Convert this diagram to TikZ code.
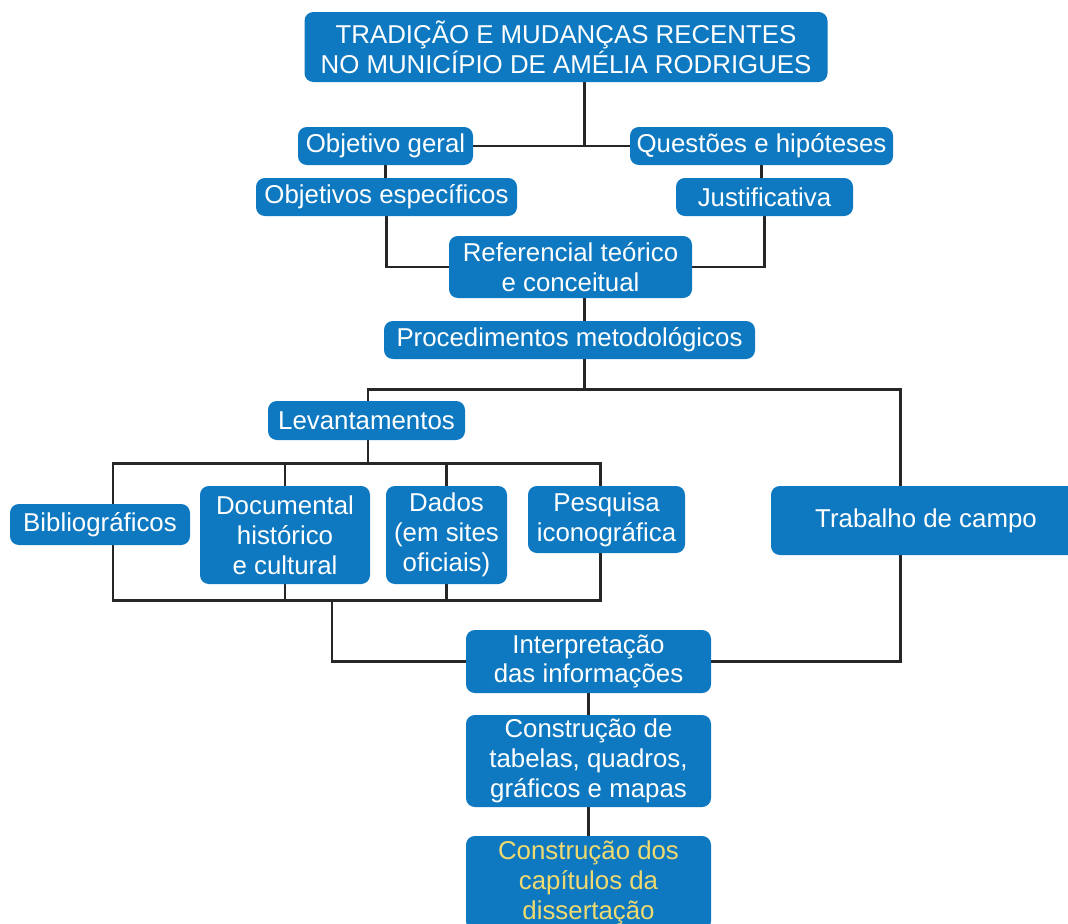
\documentclass[tikz,border=0pt]{standalone}
\usepackage{fontspec}
\setmainfont{Liberation Sans}
\usetikzlibrary{backgrounds}
\definecolor{boxblue}{RGB}{14,121,192}
\definecolor{capyellow}{RGB}{240,218,112}
\begin{document}
\begin{tikzpicture}[x=0.02cm,y=-0.02cm,
	box/.style={fill=boxblue, rounded corners=5pt, text=white, align=center, inner sep=0pt,
		font=\fontsize{14.7}{17}\selectfont},
	boxsize/.style 2 args={minimum width=#1*0.02cm, minimum height=#2*0.02cm},
	link/.style={line width=1.7pt, black!85}]
\useasboundingbox (0,0) rectangle (1068,923);

%top
\node[box, boxsize={523}{70}] (title) at (566,47) {TRADIÇÃO E MUDANÇAS RECENTES\\NO MUNICÍPIO DE AMÉLIA RODRIGUES};
\node[box, boxsize={175}{38}] (geral) at (385.5,146) {Objetivo geral};
\node[box, boxsize={263}{38}] (questoes) at (761.5,146) {Questões e hipóteses};
\node[box, boxsize={261}{38}] (especificos) at (386.5,197) {Objetivos específicos};
\node[box, boxsize={177}{38}] (justif) at (764.5,197) {Justificativa};
\node[box, boxsize={243}{62}] (referencial) at (570.5,267) {Referencial teórico\\e conceitual};
\node[box, boxsize={371}{38}] (proced) at (569.5,340) {Procedimentos metodológicos};

%levantamentos
\node[box, boxsize={197}{39}] (levant) at (366.5,420.5) {Levantamentos};
\node[box, boxsize={180}{41}] (biblio) at (100,524.5) {Bibliográficos};
\node[box, boxsize={170}{98}] (docum) at (285,535) {Documental\\histórico\\e cultural};
\node[box, boxsize={121}{98}] (dados) at (446.5,535) {Dados\\(em sites\\oficiais)};
\node[box, boxsize={157}{67}] (pesquisa) at (606.5,519.5) {Pesquisa\\iconográfica};
\node[box, boxsize={310}{69}] (campo) at (926,520.5) {Trabalho de campo};

%bottom
\node[box, boxsize={245}{63}] (interp) at (588.5,661.5) {Interpretação\\das informações};
\node[box, boxsize={245}{92}] (tabelas) at (588.5,761) {Construção de\\tabelas, quadros,\\gráficos e mapas};
\node[box, boxsize={245}{94}, text=capyellow] (capitulos) at (588.5,883) {Construção dos\\capítulos da\\dissertação};

\coordinate (jtop) at (584,146);
\coordinate (jlev) at (368,389);
\coordinate (jcampo) at (900,389);
\coordinate (gtl) at (113,463);
\coordinate (gbr) at (600,600);
\coordinate (gdrop) at (332,600);

\begin{scope}[on background layer]
\draw[link] (title.south -| jtop) -- (jtop);
\draw[link] (geral.east) -- (questoes.west);
\draw[link] (geral.south) -- (geral.south |- especificos.north);
\draw[link] (questoes.south) -- (questoes.south |- justif.north);
\draw[link] (especificos.south) |- (referencial.west);
\draw[link] (justif.south) |- (referencial.east);
\draw[link] (referencial.south -| jtop) -- (proced.north -| jtop);
\draw[link] (proced.south -| jtop) -- (jtop |- jlev);
\draw[link] (levant.north -| jlev) -- (jlev) -- (jcampo) |- (interp.east);

\draw[link] (levant.south -| jlev) -- (jlev |- gtl);
\draw[link] (gtl) rectangle (gbr);
\draw[link] (docum.north) -- (docum.north |- gtl);
\draw[link] (docum.south) -- (docum.south |- gbr);
\draw[link] (dados.north) -- (dados.north |- gtl);
\draw[link] (dados.south) -- (dados.south |- gbr);
\draw[link] (gdrop) |- (interp.west);

\draw[link] (interp.south) -- (tabelas.north);
\draw[link] (tabelas.south) -- (capitulos.north);
\end{scope}
\end{tikzpicture}
\end{document}
